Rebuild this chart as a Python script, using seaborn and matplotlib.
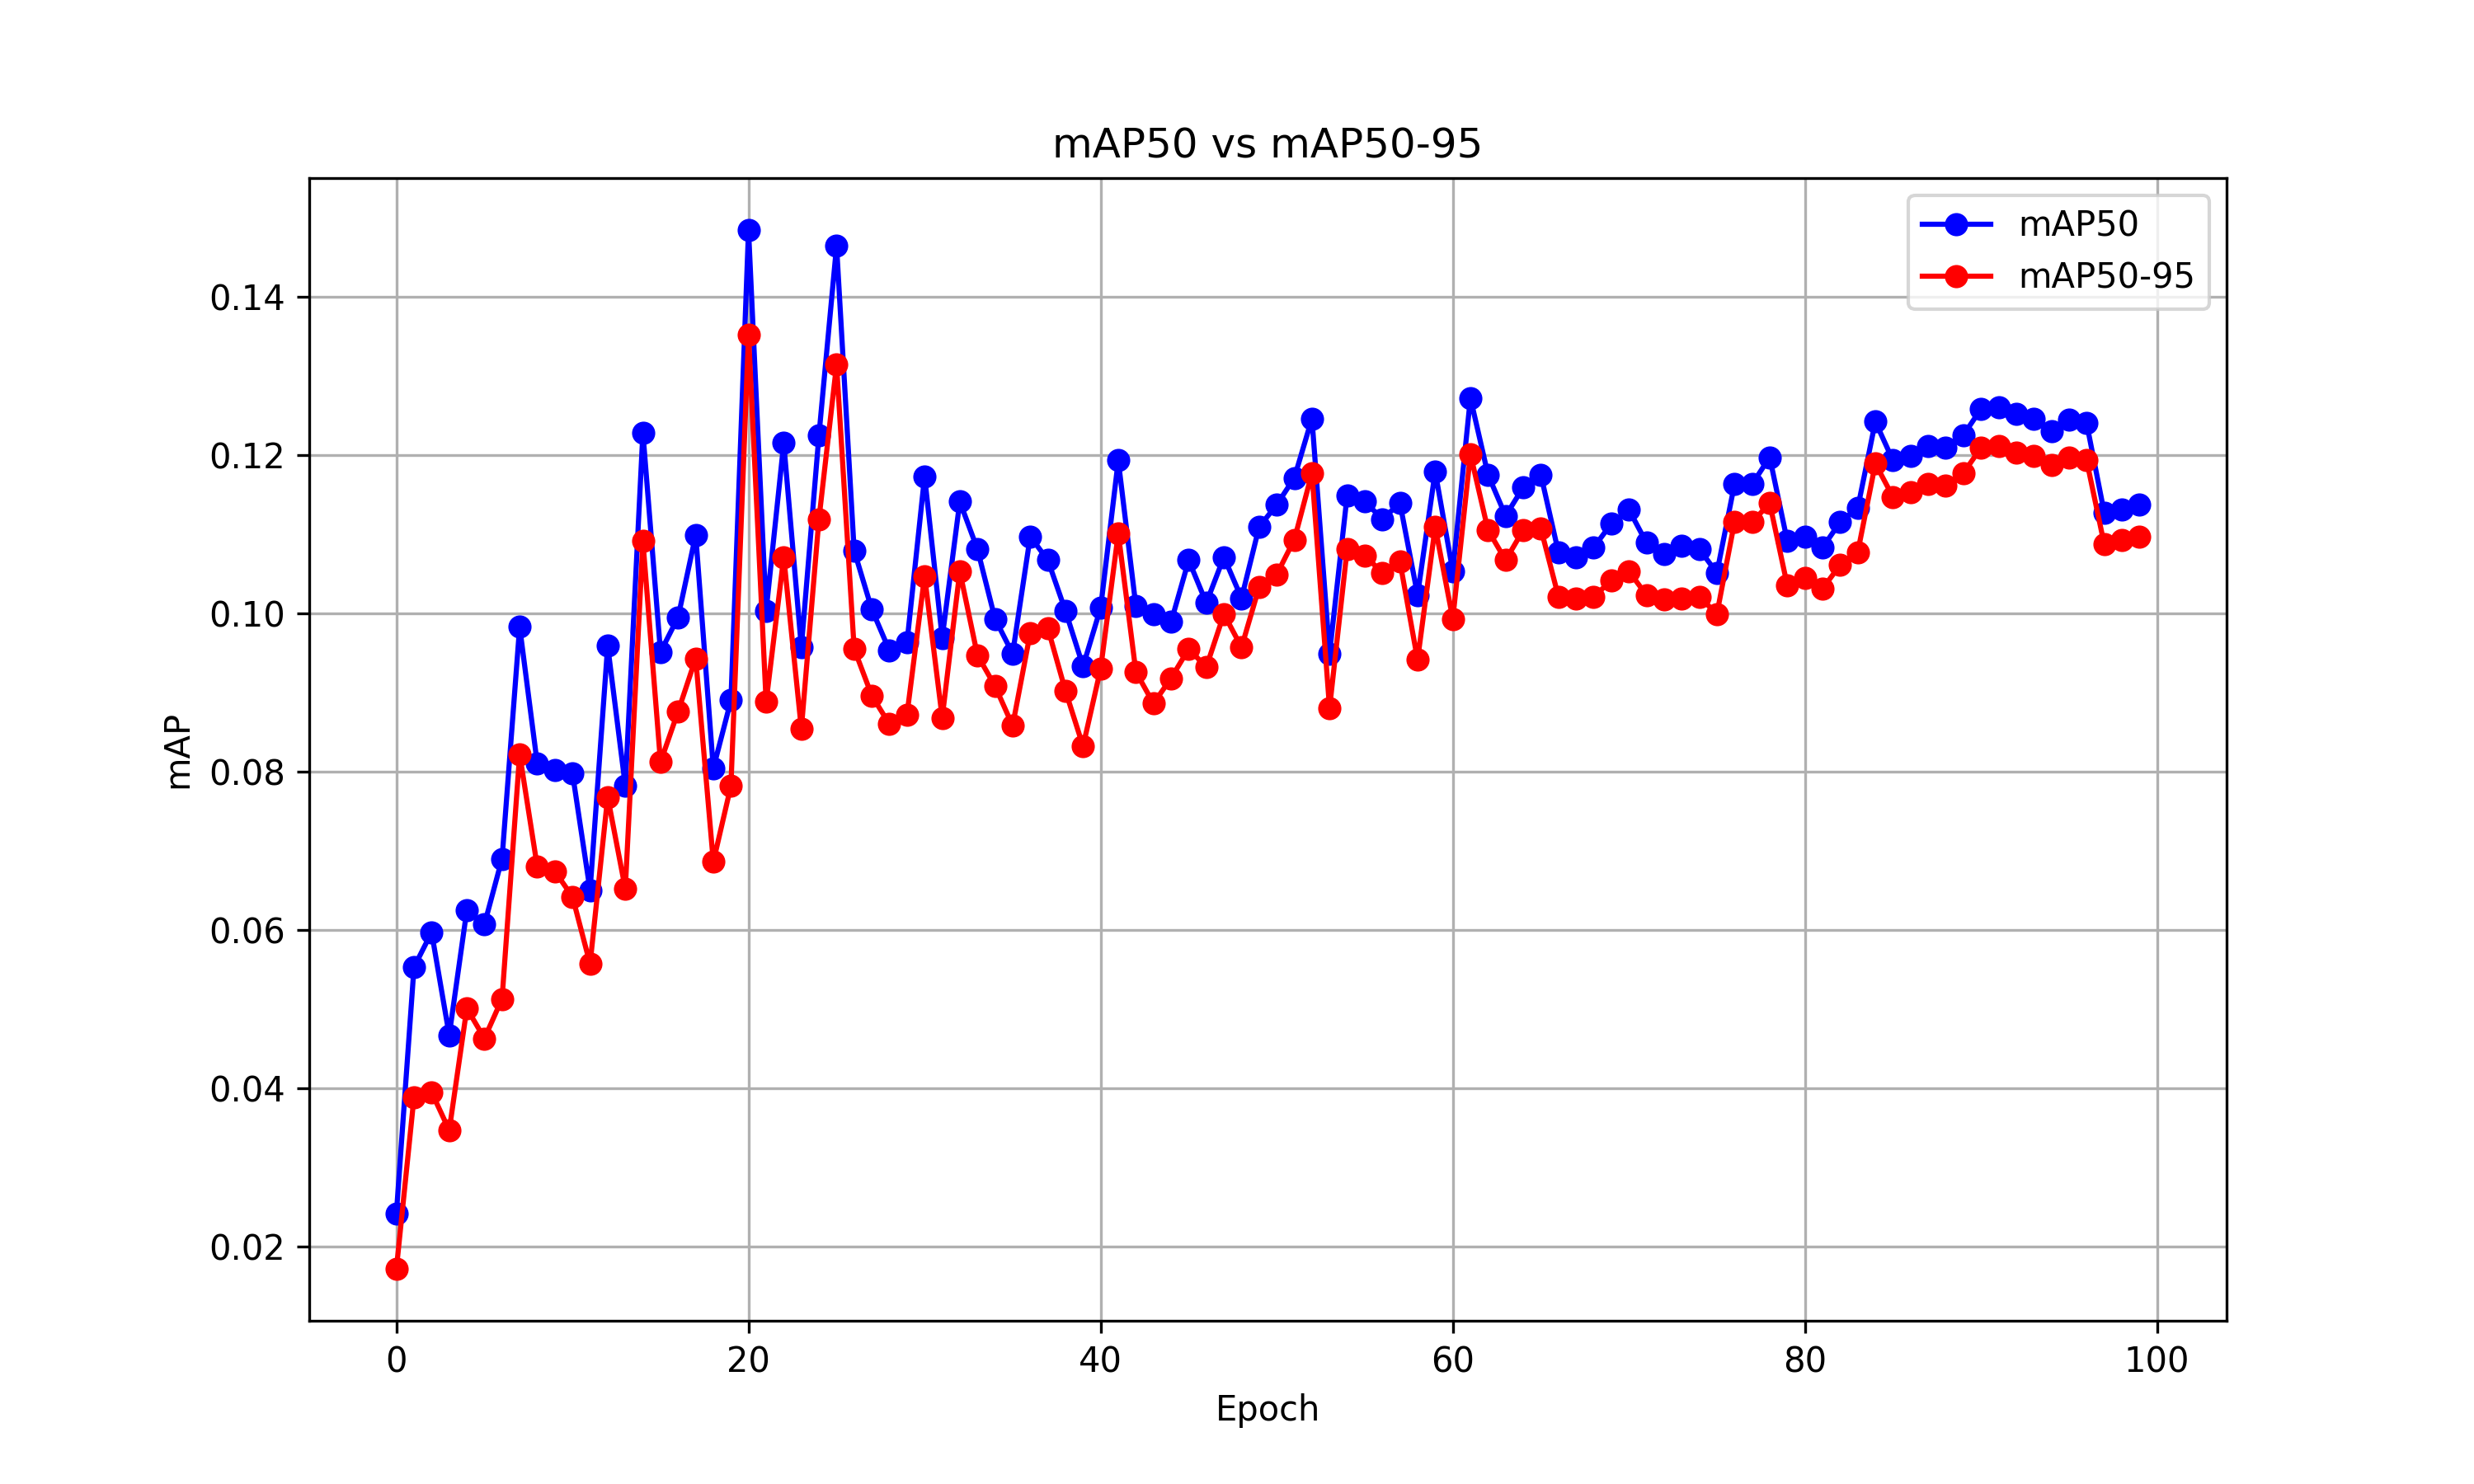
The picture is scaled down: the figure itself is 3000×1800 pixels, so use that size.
import matplotlib
matplotlib.use('Agg')
import matplotlib.pyplot as plt
import seaborn as sns
import numpy as np

epochs = np.arange(100)

map50 = [0.0242, 0.0553, 0.0597, 0.0467, 0.0625, 0.0607, 0.0690, 0.0983, 0.0810, 0.0802,
         0.0798, 0.0650, 0.0959, 0.0782, 0.1228, 0.0951, 0.0995, 0.1099, 0.0804, 0.0890,
         0.1484, 0.1003, 0.1215, 0.0957, 0.1225, 0.1464, 0.1079, 0.1005, 0.0953, 0.0963,
         0.1173, 0.0969, 0.1141, 0.1081, 0.0993, 0.0949, 0.1097, 0.1067, 0.1003, 0.0933,
         0.1007, 0.1193, 0.1009, 0.0999, 0.0989, 0.1067, 0.1013, 0.1071, 0.1019, 0.1109,
         0.1137, 0.1171, 0.1246, 0.0949, 0.1149, 0.1141, 0.1119, 0.1139, 0.1023, 0.1179,
         0.1053, 0.1272, 0.1175, 0.1123, 0.1159, 0.1175, 0.1077, 0.1071, 0.1083, 0.1113,
         0.1131, 0.1089, 0.1075, 0.1085, 0.1081, 0.1051, 0.1163, 0.1163, 0.1197, 0.1091,
         0.1097, 0.1083, 0.1115, 0.1133, 0.1242, 0.1193, 0.1199, 0.1211, 0.1209, 0.1225,
         0.1258, 0.1260, 0.1252, 0.1246, 0.1230, 0.1244, 0.1240, 0.1127, 0.1131, 0.1137]

map50_95 = [0.0172, 0.0389, 0.0395, 0.0347, 0.0501, 0.0463, 0.0513, 0.0822, 0.0680, 0.0674,
            0.0642, 0.0557, 0.0768, 0.0652, 0.1091, 0.0812, 0.0876, 0.0943, 0.0686, 0.0782,
            0.1352, 0.0888, 0.1071, 0.0854, 0.1119, 0.1314, 0.0955, 0.0896, 0.0860, 0.0872,
            0.1047, 0.0868, 0.1053, 0.0947, 0.0908, 0.0858, 0.0975, 0.0981, 0.0902, 0.0832,
            0.0930, 0.1101, 0.0926, 0.0886, 0.0918, 0.0955, 0.0932, 0.0999, 0.0957, 0.1033,
            0.1049, 0.1093, 0.1177, 0.0880, 0.1081, 0.1073, 0.1051, 0.1065, 0.0941, 0.1109,
            0.0993, 0.1201, 0.1105, 0.1067, 0.1105, 0.1107, 0.1021, 0.1019, 0.1021, 0.1041,
            0.1053, 0.1023, 0.1017, 0.1019, 0.1021, 0.0999, 0.1115, 0.1115, 0.1139, 0.1035,
            0.1045, 0.1031, 0.1061, 0.1077, 0.1189, 0.1147, 0.1153, 0.1163, 0.1161, 0.1177,
            0.1209, 0.1211, 0.1203, 0.1199, 0.1187, 0.1197, 0.1193, 0.1087, 0.1093, 0.1097]

fig, ax = plt.subplots(figsize=(10, 6), dpi=300)
sns.lineplot(x=epochs, y=map50, marker='o', color='blue', label='mAP50',
             markeredgecolor='blue', markersize=6, ax=ax)
sns.lineplot(x=epochs, y=map50_95, marker='o', color='red', label='mAP50-95',
             markeredgecolor='red', markersize=6, ax=ax)
ax.set_title('mAP50 vs mAP50-95')
ax.set_xlabel('Epoch')
ax.set_ylabel('mAP')
ax.grid(True)
ax.legend(loc='upper right')
plt.savefig('out.png', dpi=300)
plt.close()
